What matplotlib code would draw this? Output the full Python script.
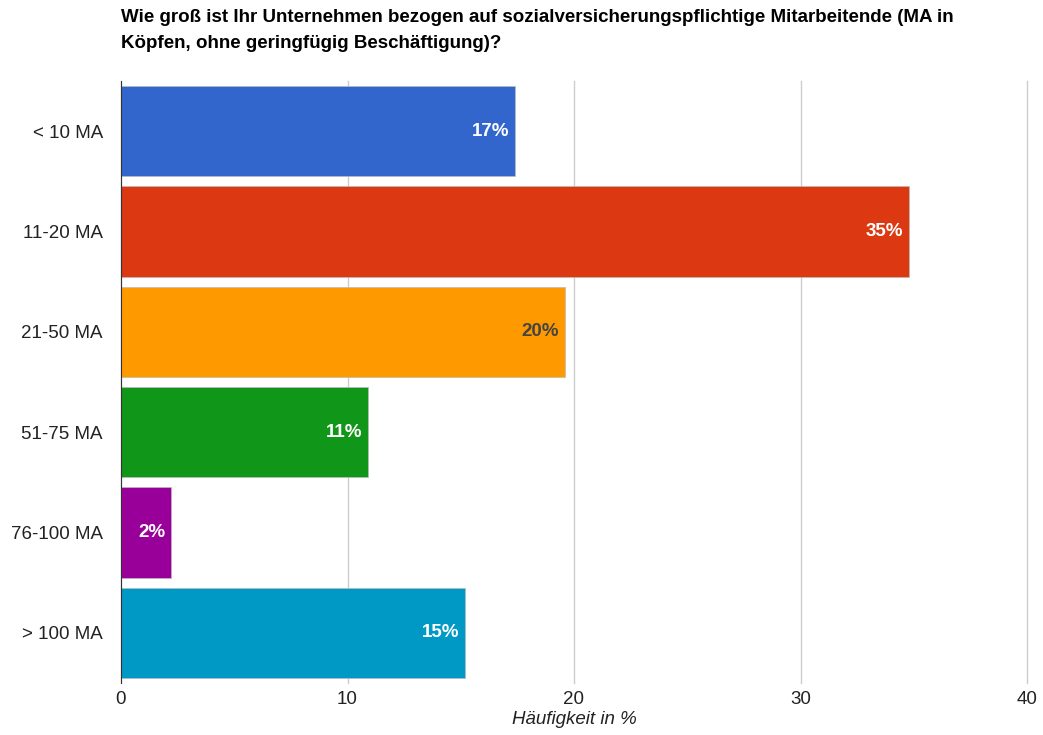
import matplotlib.pyplot as plt

plt.rcParams['font.family'] = ['Liberation Sans', 'DejaVu Sans']

categories = ['< 10 MA', '11-20 MA', '21-50 MA', '51-75 MA', '76-100 MA', '> 100 MA']
shares = [17.4, 34.8, 19.6, 10.9, 2.2, 15.2]
colors = ['#3366cc', '#dc3912', '#ff9900', '#109618', '#990099', '#0099c6']
label_colors = ['white', 'white', '#444444', 'white', 'white', 'white']

title = ('Wie groß ist Ihr Unternehmen bezogen auf sozialversicherungspflichtige Mitarbeitende (MA in\n'
         'Köpfen, ohne geringfügig Beschäftigung)?')

fig = plt.figure(figsize=(10.43, 7.35), dpi=100)
ax = fig.add_axes([121 / 1043, 1 - 683 / 735, (1027 - 121) / 1043, (683 - 81) / 735])

pos = list(range(len(categories)))
bars = ax.barh(pos, shares, height=0.9, color=colors, edgecolor='#bbbbbb', linewidth=0.5, zorder=2)

# percentage labels inside the bar ends
for bar, val, lc in zip(bars, shares, label_colors):
    ax.text(bar.get_width() - 0.25, bar.get_y() + bar.get_height() / 2, f'{val:.0f}%',
            ha='right', va='center', color=lc, fontsize=13.5, fontweight='bold', zorder=3)

ax.set_xlim(0, 40)
ax.set_ylim(len(categories) - 0.5, -0.5)
ax.set_xticks([0, 10, 20, 30, 40])
ax.set_yticks(pos)
ax.set_yticklabels(categories)
ax.tick_params(axis='both', length=0, labelsize=13.5, colors='#222222')
ax.tick_params(axis='y', pad=13)
ax.tick_params(axis='x', pad=6)
ax.xaxis.grid(True, color='#cccccc', linewidth=1, zorder=0)
for gl in ax.get_xgridlines():
    gl.set_clip_on(False)
for side in ['top', 'right', 'bottom']:
    ax.spines[side].set_visible(False)
ax.spines['left'].set_color('#333333')
ax.spines['left'].set_zorder(4)

ax.set_xlabel('Häufigkeit in %', fontsize=13.5, style='italic', color='#222222', labelpad=2)

fig.text(121 / 1043, 1 - 9 / 735, title, ha='left', va='top', fontsize=13.5,
         fontweight='bold', color='black', linespacing=1.68)

fig.savefig('out.png', dpi=100)
